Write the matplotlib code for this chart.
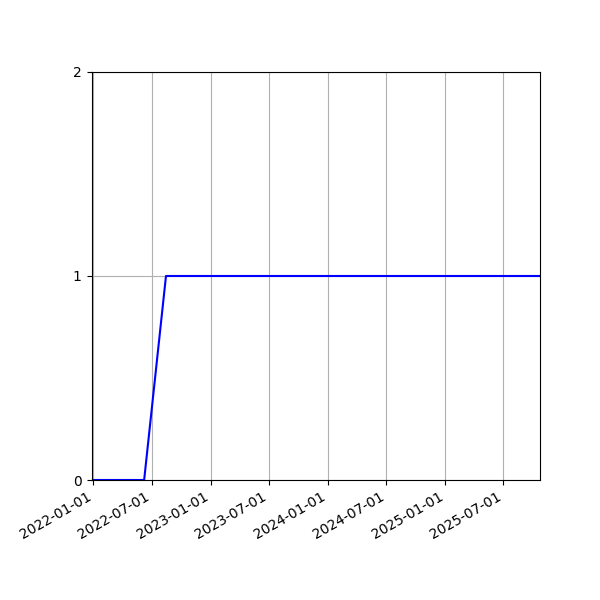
import numpy as np
import pandas as pd
from matplotlib import pyplot as plt

# step-like series: off until mid 2022, then on
dates = pd.to_datetime(["2021-12-26", "2022-06-08", "2022-08-15", "2025-10-23"])
values = [0, 0, 1, 1]

fig = plt.figure(figsize=(6, 6), dpi=100)
ax = fig.add_axes([0.1525, 0.2, 0.9 - 0.1525, 0.68])

ax.plot(dates, values, color="blue")
ax.set_xlim(dates[0], dates[-1])
ax.set_ylim(0, 2)
ax.set_yticks([0, 1, 2])

ticks = pd.to_datetime(["2022-01-01", "2022-07-01", "2023-01-01", "2023-07-01",
                        "2024-01-01", "2024-07-01", "2025-01-01", "2025-07-01"])
ax.set_xticks(ticks)
ax.set_xticklabels([t.strftime("%Y-%m-%d") for t in ticks], rotation=30, ha="right")
ax.grid(True)

fig.savefig("out.png", dpi=100)
